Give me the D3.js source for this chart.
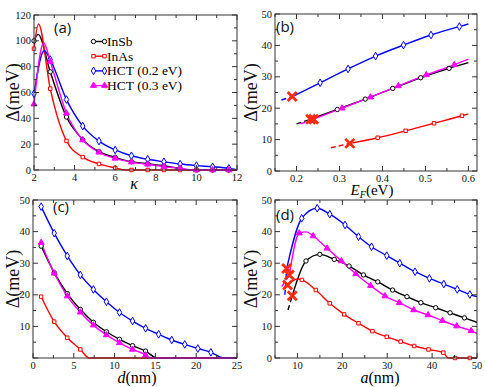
<!DOCTYPE html>
<html>
<head>
<meta charset="utf-8">
<script src="https://cdn.jsdelivr.net/npm/d3@7"></script>
<style>
  body { margin: 0; background: #fff; }
  svg { display: block; }
</style>
</head>
<body>
<div id="chart"></div>
<script>
// ---------- panel (a): gap vs kappa ----------
var kappaMarks = [2, 2.8, 3.6, 4.4, 5.2, 6.0, 6.8, 7.6, 8.4, 9.2, 10.0, 10.8, 11.6];
var insbKappa = [100, 76, 41, 23.5, 14.3, 9.8, 6.4, 4.8, 3.2, 1.2, 0, 0, 0];
var inasKappa = [94, 63, 22.5, 10, 4.7, 1.6, 0, 0, 0, 0, 0, 0, 0];
var hct2Kappa = [59, 85.5, 54.5, 34, 22.4, 15.5, 11, 8.3, 6.4, 4.6, 3.4, 2.5, 1.3];
var hct3Kappa = [51, 84, 44, 23.2, 13.7, 9, 6.1, 4.4, 2.6, 1.3, 0, 0, 0];
// extra curve nodes (peaks, zero crossings, ends)
var insbKappaExtra = [[2.2, 105], [9.7, 0], [12, 0]];
var inasKappaExtra = [[2.22, 113], [6.5, 0], [12, 0]];
var hct2KappaExtra = [[2.5, 92.3], [12, 0.3]];
var hct3KappaExtra = [[2.48, 98.5], [9.8, 0], [12, 0]];

// ---------- panel (b): gap vs Fermi energy ----------
var insbEfDash = [[0.2, 15], [0.233, 16.5]];
var insbEf = [[0.295, 19.6], [0.36, 22.9], [0.424, 26.3], [0.489, 29.7], [0.555, 32.7]];
var insbEfEnd = [[0.6, 34.5]];
var inasEfDash = [[0.28, 7.4], [0.324, 8.8]];
var inasEf = [[0.389, 10.6], [0.454, 12.8], [0.52, 15.2], [0.585, 17.6]];
var inasEfEnd = [[0.6, 18.2]];
var hct2EfDash = [[0.165, 22.6], [0.19, 23.7]];
var hct2Ef = [[0.255, 28.1], [0.32, 32.5], [0.384, 36.6], [0.449, 40.1], [0.513, 43.3], [0.579, 46.0]];
var hct2EfEnd = [[0.6, 46.8]];
var hct3EfDash = [[0.209, 15], [0.24, 16.5]];
var hct3Ef = [[0.306, 20], [0.372, 23.5], [0.437, 27.1], [0.502, 30.6], [0.567, 33.8]];
var hct3EfEnd = [[0.6, 35.6]];

// ---------- panel (c): gap vs d ----------
var dMarks = [1, 2.6, 4.2, 5.8, 7.4, 9.0, 10.6, 12.2, 13.8, 15.4, 17.0, 18.6, 20.2, 21.8];
var insbD = [35.4, 27, 20.4, 15.4, 11.3, 8.3, 5.9, 3.9, 2.2];
var inasD = [19.4, 11.5, 6.4, 2.7];
var hct2D = [47.9, 39.5, 32.3, 26.3, 21.7, 17.8, 14.4, 11.7, 9.4, 7.5, 5.7, 4.3, 3.0, 1.8];
var hct3D = [36.5, 26.8, 19.6, 14.5, 10.4, 7.3, 4.8, 2.7, 0.9];
var insbDExtra = [[15.2, 0], [25, 0]];
var inasDExtra = [[6.9, 0], [25, 0]];
var hct2DExtra = [[23.4, 0], [25, 0]];
var hct3DExtra = [[14.2, 0], [25, 0]];

// ---------- panel (d): gap vs a ----------
var insbAMarks = [11.9, 15, 18.2, 21.5, 24.7, 27.9, 31.2, 34.4, 37.5, 40.8, 44, 47.2];
var insbA = [30.7, 32.8, 31.2, 29.1, 26.3, 24.1, 21.5, 19.4, 17.5, 15.9, 14.3, 12.7];
var inasAMarks = [11, 14.1, 17.2, 20.4, 23.6, 26.7, 29.9, 33, 36, 39.2, 42.5, 45.1, 48.4];
var inasA = [24.7, 21.5, 17.3, 13.8, 11, 8.5, 6.7, 5.2, 3.8, 2.7, 1.7, 0, 0];
var hct2AMarks = [10.95, 14.4, 17.2, 20.6, 23.6, 26.5, 29.9, 32.8, 36.2, 39.4, 42.6, 45.6, 48.4];
var hct2A = [44.2, 47.4, 45.5, 42.1, 38.4, 35.2, 32.4, 30, 27.3, 25.2, 23.4, 21.7, 20.1];
var hct3AMarks = [10.4, 13.5, 16.6, 19.8, 23, 26.3, 29.5, 32.7, 35.9, 39.1, 42.3, 45.5, 48.7];
var hct3A = [39.5, 38.6, 34.7, 30.7, 26.6, 22.9, 19.6, 17.5, 15.2, 13.6, 11.8, 10.1, 8.6];
var insbADash = [[7.9, 15.2], [8.85, 19.7]];
var inasADash = [];
var hct2ADash = [[7.2, 20], [7.6, 28.3]];
var hct3ADash = [[6.5, 22.6], [8.2, 26.3]];
var insbAExtra = [[8.85, 19.7], [50, 11.3]];
var inasAExtra = [[7.8, 23.1], [10, 25], [43.6, 0], [50, 0]];
var hct2AExtra = [[7.6, 28.3], [50, 19.4]];
var hct3AExtra = [[8.2, 26.3], [12, 39.9], [50, 7.8]];
var crossesEf = [[0.19, 23.7], [0.233, 16.5], [0.24, 16.5], [0.324, 8.8]];
var crossesA = [[7.6, 28.3], [8.2, 26.3], [7.8, 23.1], [8.85, 19.7]];

var legendNames = ["InSb", "InAs", "HCT (0.2 eV)", "HCT (0.3 eV)"];

var colors = {insb: "#000000", inas: "#ff0000", hct2: "#0000ff", hct3: "#ff00ff"};
var shapes = {insb: d3.symbolCircle, inas: d3.symbolSquare, hct2: d3.symbolDiamond, hct3: d3.symbolTriangle};
var sizes = {insb: 15, inas: 12, hct2: 17, hct3: 16};
var order = ["insb", "inas", "hct2", "hct3"];
var serif = "'Liberation Serif', 'Times New Roman', Tinos, 'DejaVu Serif', serif";

var width = 485, height = 387;
var svg = d3.select("#chart").append("svg")
  .attr("width", width)
  .attr("height", height)
  .attr("font-family", serif)
  .style("font-family", serif);

function zipMarks(xs, ys) {
  return ys.map(function(y, i) { return [xs[i], y]; });
}
function merge(a, b) {
  return a.concat(b).sort(function(p, q) { return p[0] - q[0]; });
}

function drawMarker(g, key, x, y) {
  var sym = d3.symbol().type(shapes[key]).size(sizes[key]);
  g.append("path")
    .attr("d", sym())
    .attr("transform", "translate(" + x + "," + y + ")")
    .attr("fill", key == "hct3" ? colors[key] : "#fff")
    .attr("stroke", colors[key])
    .attr("stroke-width", 1);
}

function drawPanel(p) {
  var x = d3.scaleLinear().domain(p.xDomain).range([p.left, p.right]);
  var y = d3.scaleLinear().domain(p.yDomain).range([p.bottom, p.top]);
  var g = svg.append("g");

  var clipId = "clip" + p.name;
  svg.append("clipPath").attr("id", clipId)
    .append("rect")
    .attr("x", p.left).attr("y", p.top - 2)
    .attr("width", p.right - p.left).attr("height", p.bottom - p.top + 4);

  var line = d3.line()
    .x(function(d) { return x(d[0]); })
    .y(function(d) { return y(d[1]); })
    .curve(d3.curveMonotoneX);

  var plot = g.append("g").attr("clip-path", "url(#" + clipId + ")");
  p.series.forEach(function(s) {
    if (s.dash && s.dash.length) {
      plot.append("path").attr("d", line(s.dash))
        .attr("fill", "none").attr("stroke", colors[s.key])
        .attr("stroke-width", 1.4).attr("stroke-dasharray", "5,3");
    }
    plot.append("path").attr("d", line(s.nodes))
      .attr("fill", "none").attr("stroke", colors[s.key])
      .attr("stroke-width", 1.4);
  });
  var markG = g.append("g");
  p.series.forEach(function(s) {
    s.marks.forEach(function(m) {
      drawMarker(markG, s.key, x(m[0]), y(m[1]));
    });
  });
  (p.crosses || []).forEach(function(c) {
    g.append("path")
      .attr("d", "M-4.5,-4.5L4.5,4.5M-4.5,4.5L4.5,-4.5")
      .attr("transform", "translate(" + x(c[0]) + "," + y(c[1]) + ")")
      .attr("stroke", "#ff2a10").attr("stroke-width", 2.8).attr("fill", "none");
  });

  // frame and inward ticks on all sides
  g.append("rect")
    .attr("x", p.left).attr("y", p.top)
    .attr("width", p.right - p.left).attr("height", p.bottom - p.top)
    .attr("fill", "none").attr("stroke", "#333").attr("stroke-width", 1);

  var tg = g.append("g").attr("stroke", "#333").attr("stroke-width", 1);
  p.xMinor.forEach(function(t) {
    var len = p.xMajor.indexOf(t) >= 0 ? 5 : 3;
    tg.append("line").attr("x1", x(t)).attr("x2", x(t)).attr("y1", p.bottom).attr("y2", p.bottom - len);
    tg.append("line").attr("x1", x(t)).attr("x2", x(t)).attr("y1", p.top).attr("y2", p.top + len);
  });
  p.yMinor.forEach(function(t) {
    var len = p.yMajor.indexOf(t) >= 0 ? 5 : 3;
    tg.append("line").attr("y1", y(t)).attr("y2", y(t)).attr("x1", p.left).attr("x2", p.left + len);
    tg.append("line").attr("y1", y(t)).attr("y2", y(t)).attr("x1", p.right).attr("x2", p.right - len);
  });

  p.xMajor.forEach(function(t) {
    g.append("text").attr("x", x(t)).attr("y", p.bottom + 10.5)
      .attr("text-anchor", "middle").attr("font-size", 10.5).attr("fill", "#111")
      .text(p.xFormat ? p.xFormat(t) : t);
  });
  p.yLabels.forEach(function(t) {
    g.append("text").attr("x", p.left - 3).attr("y", y(t) + 3.5)
      .attr("text-anchor", "end").attr("font-size", 10.5).attr("fill", "#111")
      .text(t);
  });

  g.append("text")
    .attr("transform", "translate(" + p.yLabelX + "," + ((p.top + p.bottom) / 2) + ") rotate(-90)")
    .attr("text-anchor", "middle").attr("font-size", 18).attr("fill", "#111")
    .text("\u0394(meV)");

  g.append("text")
    .attr("x", p.tagX).attr("y", p.tagY).attr("font-size", 15).attr("fill", "#111")
    .attr("font-family", "'Open Sans', 'Noto Sans', sans-serif")
    .style("font-family", "'Open Sans', 'Noto Sans', sans-serif")
    .text(p.tag);
  return {g: g, x: x, y: y};
}

function range(a, b, step) {
  var out = [];
  for (var v = a; v <= b + 1e-9; v += step) out.push(Math.round(v * 1000) / 1000);
  return out;
}

// ---- (a)
var seriesA = [
  {key: "insb", marks: zipMarks(kappaMarks, insbKappa), extra: insbKappaExtra},
  {key: "inas", marks: zipMarks(kappaMarks, inasKappa), extra: inasKappaExtra},
  {key: "hct2", marks: zipMarks(kappaMarks, hct2Kappa), extra: hct2KappaExtra},
  {key: "hct3", marks: zipMarks(kappaMarks, hct3Kappa), extra: hct3KappaExtra}
];
seriesA.forEach(function(s) { s.nodes = merge(s.marks, s.extra); });
var pa = drawPanel({
  name: "a", left: 34, right: 237, top: 15, bottom: 170,
  xDomain: [2, 12], yDomain: [0, 120],
  xMajor: range(2, 12, 2), xMinor: range(2, 12, 1),
  yMajor: range(0, 120, 20), yMinor: range(0, 120, 10), yLabels: range(0, 120, 20),
  series: seriesA, yLabelX: 19, tag: "(a)", tagX: 54, tagY: 33
});
pa.g.append("text").attr("x", 134).attr("y", 189).attr("text-anchor", "middle")
  .attr("font-size", 16).attr("font-style", "italic").text("\u03ba");

// legend
var lg = pa.g.append("g");
order.forEach(function(key, i) {
  var ly = 41.5 + i * 14.7;
  lg.append("line").attr("x1", 93).attr("x2", 105).attr("y1", ly).attr("y2", ly)
    .attr("stroke", colors[key]).attr("stroke-width", 1.4);
  drawMarker(lg, key, 93.5, ly);
  drawMarker(lg, key, 104.5, ly);
  lg.append("text").attr("x", 107).attr("y", ly + 4.5).attr("font-size", 13.5)
    .text(legendNames[i]);
});

// ---- (b)
var seriesB = [
  {key: "insb", dash: insbEfDash, marks: insbEf, nodes: merge(insbEfDash.slice(1), insbEf.concat(insbEfEnd))},
  {key: "inas", dash: inasEfDash, marks: inasEf, nodes: merge(inasEfDash.slice(1), inasEf.concat(inasEfEnd))},
  {key: "hct2", dash: hct2EfDash, marks: hct2Ef, nodes: merge(hct2EfDash.slice(1), hct2Ef.concat(hct2EfEnd))},
  {key: "hct3", dash: hct3EfDash, marks: hct3Ef, nodes: merge(hct3EfDash.slice(1), hct3Ef.concat(hct3EfEnd))}
];
var pb = drawPanel({
  name: "b", left: 275, right: 477, top: 14, bottom: 171,
  xDomain: [0.15, 0.62], yDomain: [0, 50],
  xMajor: range(0.2, 0.6, 0.1), xMinor: range(0.15, 0.6, 0.05),
  xFormat: d3.format(".1f"),
  yMajor: range(0, 50, 10), yMinor: range(0, 50, 5), yLabels: range(0, 50, 10),
  series: seriesB, crosses: crossesEf, yLabelX: 257, tag: "(b)", tagX: 276, tagY: 32
});
var eb = pb.g.append("text").attr("x", 372).attr("y", 195).attr("text-anchor", "middle").attr("font-size", 15);
eb.append("tspan").attr("font-style", "italic").text("E");
eb.append("tspan").attr("font-style", "italic").attr("font-size", 10).attr("dy", 3).text("F");
eb.append("tspan").attr("dy", -3).text("(eV)");

// ---- (c)
var seriesC = [
  {key: "insb", marks: zipMarks(dMarks, insbD), extra: insbDExtra},
  {key: "inas", marks: zipMarks(dMarks, inasD), extra: inasDExtra},
  {key: "hct2", marks: zipMarks(dMarks, hct2D), extra: hct2DExtra},
  {key: "hct3", marks: zipMarks(dMarks, hct3D), extra: hct3DExtra}
];
seriesC.forEach(function(s) { s.nodes = merge(s.marks, s.extra); });
var pc = drawPanel({
  name: "c", left: 33, right: 237, top: 200, bottom: 358,
  xDomain: [0, 25], yDomain: [0, 50],
  xMajor: range(0, 25, 5), xMinor: range(0, 25, 2.5),
  yMajor: range(0, 50, 10), yMinor: range(0, 50, 5), yLabels: range(10, 50, 10),
  series: seriesC, yLabelX: 19, tag: "(c)", tagX: 53, tagY: 212
});
var ec = pc.g.append("text").attr("x", 137).attr("y", 383).attr("text-anchor", "middle").attr("font-size", 16);
ec.append("tspan").attr("font-style", "italic").text("d");
ec.append("tspan").text("(nm)");

// ---- (d)
var seriesD = [
  {key: "insb", dash: insbADash, marks: zipMarks(insbAMarks, insbA), extra: insbAExtra},
  {key: "inas", dash: inasADash, marks: zipMarks(inasAMarks, inasA), extra: inasAExtra},
  {key: "hct2", dash: hct2ADash, marks: zipMarks(hct2AMarks, hct2A), extra: hct2AExtra},
  {key: "hct3", dash: hct3ADash, marks: zipMarks(hct3AMarks, hct3A), extra: hct3AExtra}
];
seriesD.forEach(function(s) { s.nodes = merge(s.marks, s.extra); });
var pd = drawPanel({
  name: "d", left: 275, right: 477, top: 200, bottom: 358,
  xDomain: [5, 50], yDomain: [0, 50],
  xMajor: range(10, 50, 10), xMinor: range(5, 50, 5),
  yMajor: range(0, 50, 10), yMinor: range(0, 50, 5), yLabels: range(0, 50, 10),
  series: seriesD, crosses: crossesA, yLabelX: 257, tag: "(d)", tagX: 276, tagY: 220
});
var ed = pd.g.append("text").attr("x", 380).attr("y", 383).attr("text-anchor", "middle").attr("font-size", 16);
ed.append("tspan").attr("font-style", "italic").text("a");
ed.append("tspan").text("(nm)");
</script>
</body>
</html>
